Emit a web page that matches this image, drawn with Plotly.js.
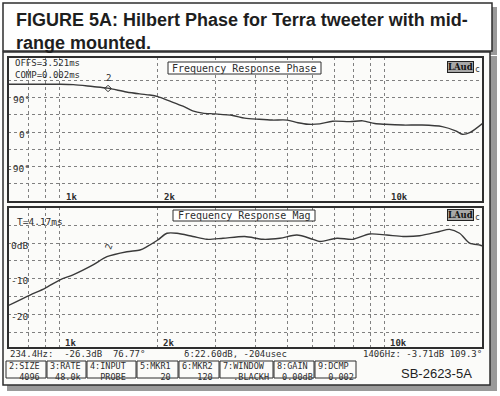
<!DOCTYPE html>
<html><head><meta charset="utf-8">
<script src="https://cdn.plot.ly/plotly-3.0.1.min.js"></script>
<style>html,body{margin:0;padding:0;background:#fff}#chart{width:500px;height:396px}</style>
</head><body><div id="chart"></div>
<script>
// ---------- data ----------
const phaseFreq = [692, 850, 1000, 1100, 1260, 1400, 1600, 1760, 1890, 2000, 2180, 2390, 2560, 2750, 3000, 3400, 3700, 4100, 4500, 5000, 5400, 5800, 6300, 6900, 7800, 8550, 9300, 10000, 11360, 13000, 15000, 16500, 17300, 18300, 20030];
const phaseDeg  = [124, 124, 124, 123, 118, 114, 104, 99, 96, 92, 80, 67, 55, 49, 47, 43, 36, 33, 31, 31, 24, 20, 21, 28, 27, 29, 22, 20, 18, 18, 14, 3, -6, -1, 23];
const magFreq = [692, 809, 899, 1000, 1097, 1264, 1395, 1607, 1762, 1852, 2000, 2134, 2290, 2564, 2832, 3175, 3706, 4213, 4751, 5357, 6000, 6308, 7117, 7960, 8966, 10130, 11370, 12780, 14720, 15800, 16970, 18230, 19570, 20030];
const magDb   = [-17.6, -14.6, -12.7, -10.3, -8.9, -6.1, -3.8, -2.4, -1.9, -0.95, 0.9, 2.8, 2.8, 1.9, 1.1, 1.4, 1.9, 1.1, 1.4, 2.3, 1.1, 0.5, 1.4, 1.1, 2.6, 2.3, 1.9, 2.1, 3.3, 3.9, 2.8, 0, -0.5, -0.8];
const gridFreqs = [800, 900, 1000, 2000, 3000, 4000, 5000, 6000, 7000, 8000, 9000, 10000];
const freqTickLabels = ['', '', '1k', '2k', '', '', '', '', '', '', '', '10k'];
const phaseGrid = [-135, -90, -45, 0, 45, 90, 135];
const phaseLabelVals = [90, 0, -90];
const phaseLabels = ['90\u00b0', '0\u00b0', '-90\u00b0'];
const magGrid = [-25, -20, -15, -10, -5, 0, 5];
const magLabelVals = [0, -10, -20];
const magLabels = ['0dB', '-10', '-20'];
const markerFreq = [1406];
const markerPhase = [113];
const markerMag = [-3.71];
const titleLines = ['FIGURE 5A: Hilbert Phase for Terra tweeter with mid-', 'range mounted.'];
const phaseTitle = 'Frequency Response Phase';
const magTitle = 'Frequency Response Mag';
const phaseInfo = ['OFFS=3.521ms', 'COMP=0.002ms'];
const magInfo = 'T=4.17ms';
const statusLeft = '234.4Hz:  -26.3dB  76.77\u00b0';
const statusMid = '\u03b4:22.60dB, -204usec';
const statusRight = '1406Hz: -3.71dB 109.3\u00b0';
const boxLabels = ['2:SIZE', '3:RATE', '4:INPUT', '5:MKR1', '6:MKR2', '7:WINDOW', '8:GAIN', '9:DCMP'];
const boxValues = ['4096', '48.0k', 'PROBE', '20', '120', '.BLACKH', '0.00dB', '0.002'];
const figureId = 'SB-2623-5A';

// ---------- layout helpers (pixels -> paper) ----------
const W = 500, H = 396;
const px = x => x / W;
const py = y => 1 - y / H;
const MONO = 'DejaVu Sans Mono, Liberation Mono, monospace';
const SANS = 'Liberation Sans, Arial, sans-serif';
const INK = '#2e2e2e';
const boxEdges = [[6, 46], [47, 86], [87, 136], [137, 178], [179, 219], [220, 273], [274, 314], [315, 356]];
const boxValueX = [39, 79, 124, 171, 211, 268, 311, 351];
const BOXFONT = 8.5, BOXCHAR = BOXFONT * 0.602;

const shapes = [];
function rect(x0, y0, x1, y1, opt) {
  shapes.push(Object.assign({type: 'rect', xref: 'paper', yref: 'paper', x0: px(x0), x1: px(x1), y0: py(y1), y1: py(y0), layer: 'below'}, opt));
}
// shadows
rect(7, 7, 497, 55, {fillcolor: '#9a9a9a', line: {width: 0}});
rect(7, 56, 497, 391, {fillcolor: '#9a9a9a', line: {width: 0}});
// title box and main frame
rect(3, 3, 492, 51, {fillcolor: '#ffffff', line: {color: INK, width: 1.5}});
rect(3, 52, 490, 385, {fillcolor: '#fbfbf9', line: {color: INK, width: 1.5}});
// plot frames
rect(8, 57, 483, 202, {fillcolor: 'rgba(0,0,0,0)', line: {color: INK, width: 2}, layer: 'above'});
rect(8, 207, 483, 348, {fillcolor: 'rgba(0,0,0,0)', line: {color: INK, width: 2}, layer: 'above'});
// plot title boxes
rect(168, 62, 321, 74, {fillcolor: '#ffffff', line: {color: INK, width: 1}, layer: 'above'});
rect(173, 210, 315, 221, {fillcolor: '#ffffff', line: {color: INK, width: 1}, layer: 'above'});
// parameter boxes
boxEdges.forEach(e => rect(e[0], 361, e[1], 378, {fillcolor: 'rgba(0,0,0,0)', line: {color: INK, width: 1}, layer: 'above'}));

const ann = [];
function txt(text, x, y, opt) {
  ann.push(Object.assign({text: text, xref: 'paper', yref: 'paper', x: px(x), y: py(y), showarrow: false, xanchor: 'left', yanchor: 'middle', font: {family: MONO, size: 9.5, color: INK}}, opt));
}
// figure title (two lines in one text)
txt('<b>' + titleLines.join('<br>') + '</b>', 15, 31, {align: 'left', borderpad: 0, font: {family: SANS, size: 18, color: '#1e1e1e'}});
// plot titles
txt(phaseTitle, 244.5, 68.5, {xanchor: 'center', font: {family: MONO, size: 10, color: INK}});
txt(magTitle, 244, 215.5, {xanchor: 'center', font: {family: MONO, size: 10, color: INK}});
// Audio Precision logos
[67, 215].forEach(r => {
  txt('<b>LAud</b>', 447, r, {font: {family: 'DejaVu Serif, serif', size: 8.5, color: '#111'}, bgcolor: '#a8a8a8', bordercolor: '#222', borderwidth: 1, borderpad: 0});
  txt('c', 473, r + 2, {font: {family: MONO, size: 8, color: INK}});
});
// info texts
txt(phaseInfo.join('<br>'), 14, 69, {align: 'left', font: {family: MONO, size: 9, color: INK}, borderpad: 0});
txt(magInfo, 15, 222);
// y labels through the axes' own scales
phaseLabelVals.forEach((v, i) => ann.push({text: phaseLabels[i], xref: 'paper', yref: 'y', x: px(32), y: v, yshift: -2, xanchor: 'right', yanchor: 'middle', showarrow: false, font: {family: MONO, size: 9.5, color: INK}}));
magLabelVals.forEach((v, i) => ann.push({text: magLabels[i], xref: 'paper', yref: 'y2', x: px(30), y: v, yshift: -2, xanchor: 'right', yanchor: 'middle', showarrow: false, font: {family: MONO, size: 9.5, color: INK}}));
// x labels through the axes' own scales
gridFreqs.forEach((f, i) => {
  if (!freqTickLabels[i]) return;
  ann.push({text: '<b>' + freqTickLabels[i] + '</b>', xref: 'x', yref: 'paper', x: Math.log10(f), y: py(197), xshift: 4, xanchor: 'left', yanchor: 'middle', showarrow: false, font: {family: MONO, size: 9, color: INK}});
  ann.push({text: '<b>' + freqTickLabels[i] + '</b>', xref: 'x2', yref: 'paper', x: Math.log10(f), y: py(342.5), xshift: 4, xanchor: 'left', yanchor: 'middle', showarrow: false, font: {family: MONO, size: 9, color: INK}, borderpad: 0});
});
// cursor labels
ann.push({text: '2', xref: 'x', yref: 'y', x: Math.log10(markerFreq[0]), y: markerPhase[0], yshift: 10, showarrow: false, font: {family: MONO, size: 9, color: INK}});
ann.push({text: '2', xref: 'x2', yref: 'y2', x: Math.log10(markerFreq[0]), y: markerMag[0], xshift: 1, yshift: 9, textangle: -70, showarrow: false, font: {family: MONO, size: 9, color: INK}});
// status line
const statusFont = {family: MONO, size: 9, color: INK};
txt(statusLeft, 9, 354, {borderpad: 0, font: statusFont});
txt(statusMid, 183, 354, {borderpad: 0, font: statusFont});
txt(statusRight, 483, 354, {xanchor: 'right', borderpad: 0, font: statusFont});
// parameter boxes text: one two-line annotation per box
boxLabels.forEach((l, i) => {
  const start = boxEdges[i][0] + 1.5;
  const pad = Math.max(0, Math.round((boxValueX[i] - start) / BOXCHAR) - boxValues[i].length);
  const value = '\u00a0'.repeat(pad) + boxValues[i];
  txt(l + '<br>' + value, start, 371.4, {align: 'left', borderpad: 0, font: {family: MONO, size: BOXFONT, color: INK}});
});
txt(figureId, 436, 373, {xanchor: 'center', font: {family: SANS, size: 13, color: '#222'}});

const xRange = [Math.log10(692), Math.log10(20030)];
function xAxis(anchor) {
  return {type: 'log', range: xRange, domain: [px(8), px(483)], anchor: anchor, tickvals: gridFreqs, showticklabels: false, ticks: '', showgrid: true, gridcolor: '#808080', griddash: 'dot', gridwidth: 1, zeroline: false, showline: false, fixedrange: true};
}
function yAxis(anchor, range, dom, grid) {
  return {range: range, domain: dom, anchor: anchor, tickvals: grid, showticklabels: false, ticks: '', showgrid: true, gridcolor: '#808080', griddash: 'dot', gridwidth: 1, zeroline: false, showline: false, fixedrange: true};
}

const lineStyle = {color: '#3a3a3a', width: 1.4, shape: 'spline', smoothing: 0.8};
const traces = [
  {x: phaseFreq, y: phaseDeg, xaxis: 'x', yaxis: 'y', type: 'scatter', mode: 'lines', line: lineStyle, hoverinfo: 'skip'},
  {x: magFreq, y: magDb, xaxis: 'x2', yaxis: 'y2', type: 'scatter', mode: 'lines', line: lineStyle, hoverinfo: 'skip'},
  {x: markerFreq, y: markerPhase, xaxis: 'x', yaxis: 'y', type: 'scatter', mode: 'markers', marker: {symbol: 'diamond-open', size: 5, color: INK, line: {width: 1, color: INK}}, hoverinfo: 'skip'}
];

const layout = {
  width: W, height: H,
  margin: {l: 0, r: 0, t: 0, b: 0, pad: 0},
  paper_bgcolor: '#ffffff', plot_bgcolor: 'rgba(0,0,0,0)',
  showlegend: false,
  xaxis: xAxis('y'),
  yaxis: yAxis('x', [-181.8, 194.8], [py(202), py(57)], phaseGrid),
  xaxis2: xAxis('y2'),
  yaxis2: yAxis('x2', [-29.5, 10.2], [py(348), py(207)], magGrid),
  shapes: shapes,
  annotations: ann
};
Plotly.newPlot('chart', traces, layout, {staticPlot: true, displayModeBar: false});
</script>
</body></html>
